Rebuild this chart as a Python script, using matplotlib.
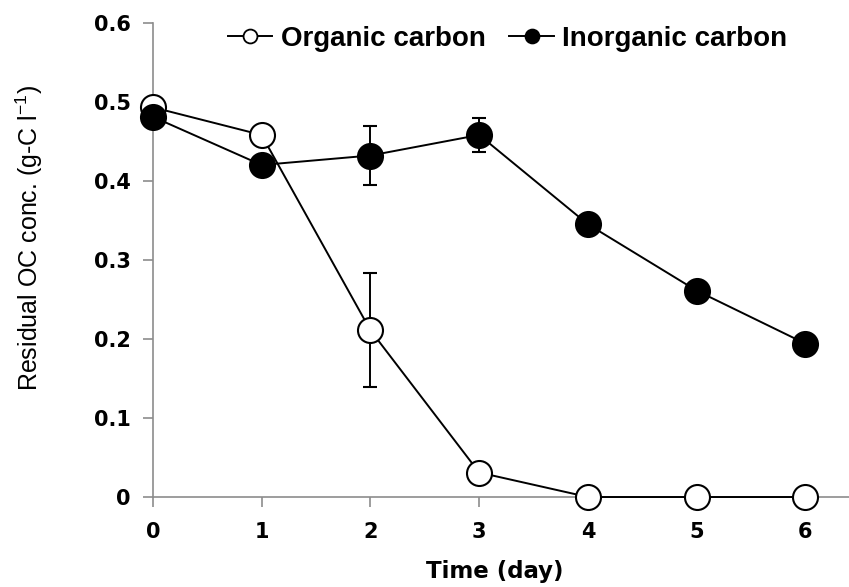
import numpy as np
import matplotlib.pyplot as plt
from matplotlib.lines import Line2D

# Residual carbon over time
days = [0, 1, 2, 3, 4, 5, 6]
organic = [0.493, 0.458, 0.211, 0.031, 0.0, 0.0, 0.0]
organic_err = [0, 0, 0.072, 0, 0, 0, 0]
inorganic = [0.481, 0.420, 0.432, 0.458, 0.345, 0.261, 0.194]
inorganic_err = [0, 0, 0.037, 0.022, 0, 0, 0]

y_ticks = [0, 0.1, 0.2, 0.3, 0.4, 0.5, 0.6]
y_labels = ['0', '0.1', '0.2', '0.3', '0.4', '0.5', '0.6']
series_names = ['Organic carbon', 'Inorganic carbon']

plt.rcParams['font.family'] = ['Liberation Sans', 'DejaVu Sans']
plt.rcParams['mathtext.default'] = 'regular'

fig = plt.figure(figsize=(8.49, 5.87), dpi=100)
ax = fig.add_axes([0.180, 0.1533, 0.820, 0.808])

ax.errorbar(days, organic, yerr=organic_err, color='black', lw=1.4,
            marker='o', ms=18, mfc='white', mec='black', mew=1.5,
            capsize=5, capthick=1.4, elinewidth=1.4, zorder=3)
ax.errorbar(days, inorganic, yerr=inorganic_err, color='black', lw=1.4,
            marker='o', ms=18, mfc='black', mec='black', mew=1.5,
            capsize=5, capthick=1.4, elinewidth=1.4, zorder=4)

ax.set_xlim(0, 6.4)
ax.set_ylim(0, 0.6)
ax.set_xticks(days)
ax.set_yticks(y_ticks)
ax.set_yticklabels(y_labels)

for s in ['top', 'right']:
    ax.spines[s].set_visible(False)
for s in ['left', 'bottom']:
    ax.spines[s].set_color('#8c8c8c')
    ax.spines[s].set_linewidth(1.2)
ax.tick_params(axis='both', colors='#8c8c8c', length=7, width=1.2,
               labelcolor='black')
ax.tick_params(axis='y', pad=9)
ax.tick_params(axis='x', pad=11)
for lab in ax.get_xticklabels() + ax.get_yticklabels():
    lab.set_family('DejaVu Sans')
    lab.set_fontweight('bold')
    lab.set_fontsize(15)
for ln in ax.get_lines():
    ln.set_clip_on(False)
for c in ax.collections:
    c.set_clip_on(False)

ax.set_xlabel('Time (day)', fontsize=16.5, fontweight='bold',
              family='DejaVu Sans', va='center')
ax.xaxis.set_label_coords(0.491, -0.158)
ax.set_ylabel('Residual OC conc. (g-C l$^{-1}$)', fontsize=18, va='center')
ax.yaxis.set_label_coords(-0.177, 0.547)

handles = [
    Line2D([], [], color='black', lw=1.4, marker='o', ms=10,
           mfc='white', mec='black', mew=1.3),
    Line2D([], [], color='black', lw=1.4, marker='o', ms=10,
           mfc='black', mec='black', mew=1.3),
]
fig.legend(handles, series_names, loc='center left',
           bbox_to_anchor=(0.2686, 0.934), frameon=False, ncol=2,
           borderpad=0, borderaxespad=0, handlelength=1.6,
           handletextpad=0.3, columnspacing=0.85,
           prop={'weight': 'bold', 'size': 20})

fig.savefig('out.png', dpi=100)
